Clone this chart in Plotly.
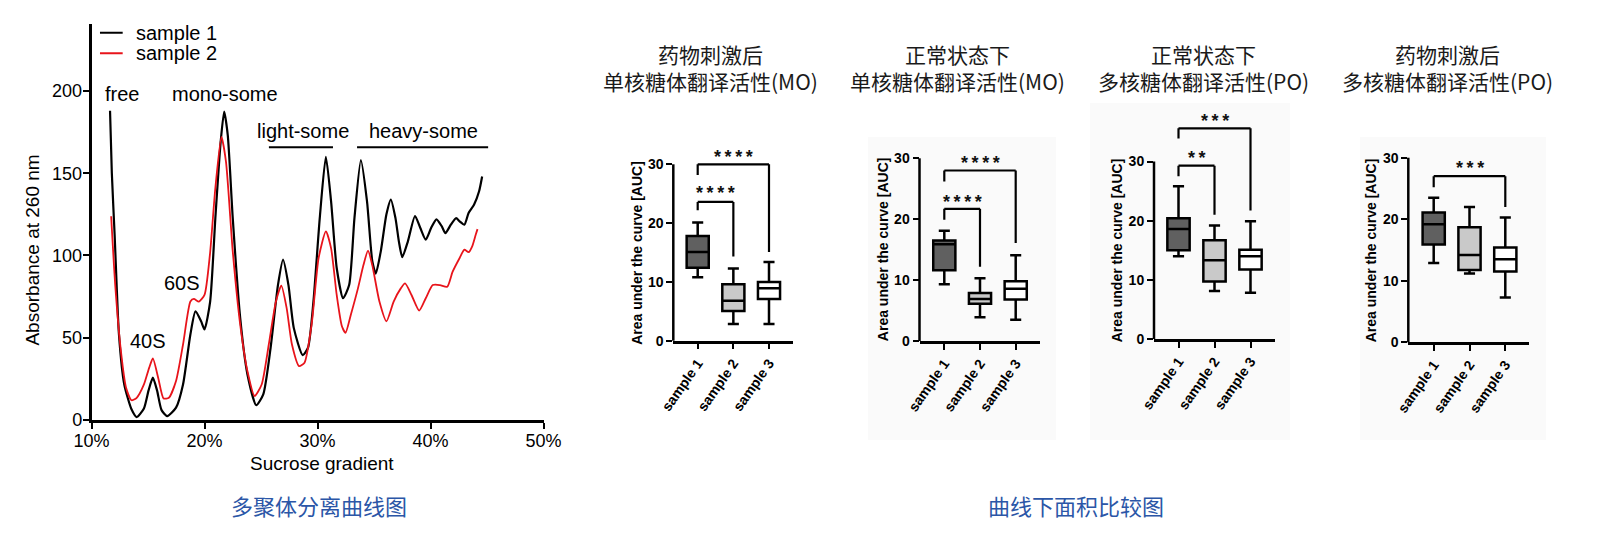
import plotly.graph_objects as go

W, H = 1599, 535
FONT = "Liberation Sans, Arial, sans-serif"
CJK = "Noto Sans CJK SC, sans-serif"

# ---------------- data: polysome profile ----------------
series_names = ["sample 1", "sample 2"]
sucrose_s1 = [11.64, 11.8, 12.05, 12.43, 12.9, 13.54, 14.0, 14.64, 15.05, 15.43, 15.8, 16.2, 16.7, 17.48,
              18.1, 18.75, 19.2, 19.7, 20.0, 20.5, 20.96, 21.43, 21.74, 22.06, 22.5, 23.16, 23.8, 24.58,
              25.2, 25.85, 26.5, 26.95, 27.43, 27.9, 28.69, 29.16, 29.64, 30.2, 30.74, 31.2, 31.7, 32.26,
              32.8, 33.27, 33.84, 34.38, 34.85, 35.16, 35.6, 36.1, 36.49, 36.9, 37.2, 37.5, 38.0, 38.63,
              39.1, 39.58, 40.05, 40.53, 41.0, 41.32, 41.8, 42.27, 42.58, 43.0, 43.37, 43.85, 44.3, 44.57]
abs_s1 = [188, 150, 112, 52, 21.6, 6.5, 1.8, 7, 18, 25.7, 18, 6, 2.4, 7.5,
          21.6, 52, 66, 60, 55, 72, 122.7, 169, 187.5, 173, 122.7, 62, 27.7, 9,
          15.6, 43.9, 82, 97.5, 82, 56, 39.4, 43.9, 72, 122.7, 160, 133, 92.4, 74,
          82, 122.7, 158, 133, 96.5, 89, 102.5, 125, 134, 122.7, 108.6, 99, 108.6, 124,
          116.7, 109.6, 116.7, 122, 117.7, 113.6, 118.7, 122.7, 120.7, 118.7, 125.8, 130.8, 139, 148]
sucrose_s2 = [11.74, 12.1, 12.6, 13.06, 13.54, 14.0, 14.64, 15.1, 15.43, 15.9, 16.38, 16.85, 17.48, 18.1,
              18.75, 19.06, 19.5, 20.0, 20.48, 20.96, 21.5, 21.9, 22.5, 23.16, 23.8, 24.43, 25.06, 25.69,
              26.32, 26.8, 27.27, 27.74, 28.37, 28.85, 29.48, 30.1, 30.74, 31.2, 31.7, 32.16, 32.48, 32.95,
              33.58, 34.06, 34.47, 34.85, 35.48, 36.1, 36.74, 37.37, 37.75, 38.32, 39.0, 39.58, 40.2, 40.84,
              41.48, 41.95, 42.58, 43.0, 43.37, 43.69, 44.0, 44.16]
abs_s2 = [123.8, 82, 42, 19.6, 12, 13.5, 21.6, 31.7, 37.4, 25.7, 13.1, 13.5, 23.7, 45.9,
          72, 73.6, 72, 76, 100.5, 141, 172, 157, 102.5, 58, 29.7, 14.6, 21.6, 45.9,
          72, 81.7, 68, 45.9, 32.8, 34.8, 58, 98.5, 114.7, 104.5, 76, 57, 53, 64,
          80, 94, 103, 94, 72, 60, 72, 80, 83, 76, 66.5, 74, 82, 82,
          81, 90, 98.5, 103.5, 102, 105.6, 112.6, 116]
series_colors = ["#000000", "#e8141b"]

peak_labels = ["free", "40S", "60S", "mono-some", "light-some", "heavy-some"]
peak_label_x = [12.67, 15.0, 18.0, 21.8, 28.7, 39.4]
peak_label_y = [198, 48.3, 83.3, 198, 175.7, 175.7]
range_bar_x0 = [25.7, 33.5]
range_bar_x1 = [31.37, 45.1]
range_bar_y = [165.8, 165.8]
legend_y = [235.4, 222.9]
x_ticks = [10, 20, 30, 40, 50]
x_ticktext = ["10%", "20%", "30%", "40%", "50%"]
y_ticks = [0, 50, 100, 150, 200]

# ---------------- data: AUC box plots ----------------
categories = ["sample 1", "sample 2", "sample 3"]
panel_titles = ["药物刺激后<br>单核糖体翻译活性(MO)", "正常状态下<br>单核糖体翻译活性(MO)",
                "正常状态下<br>多核糖体翻译活性(PO)", "药物刺激后<br>多核糖体翻译活性(PO)"]
auc_ticks = [0, 10, 20, 30]

mo_drug_lower = [10.8, 2.85, 2.85]
mo_drug_q1 = [12.4, 5.05, 7.1]
mo_drug_median = [15.1, 6.8, 8.9]
mo_drug_q3 = [17.8, 9.6, 10.0]
mo_drug_upper = [20.1, 12.3, 13.4]

mo_normal_lower = [9.3, 3.9, 3.5]
mo_normal_q1 = [11.6, 6.1, 6.8]
mo_normal_median = [15.9, 6.9, 8.6]
mo_normal_q3 = [16.5, 7.9, 9.8]
mo_normal_upper = [18.1, 10.3, 14.1]

po_normal_lower = [14.0, 8.1, 7.8]
po_normal_q1 = [15.0, 9.7, 11.75]
po_normal_median = [18.6, 13.3, 14.0]
po_normal_q3 = [20.4, 16.7, 15.1]
po_normal_upper = [25.8, 19.2, 19.9]

po_drug_lower = [12.9, 11.2, 7.3]
po_drug_q1 = [15.9, 11.75, 11.5]
po_drug_median = [19.2, 14.2, 13.5]
po_drug_q3 = [21.1, 18.7, 15.4]
po_drug_upper = [23.5, 22.0, 20.3]

# significance: (group a, group b, bracket top, left leg end, right leg end, label y, stars)
mo_drug_sig = [(0, 1, 23.6, 22.2, 14.3, 25.8, 4), (0, 2, 30.0, 28.2, 15.1, 32.0, 4)]
mo_normal_sig = [(0, 1, 21.7, 19.9, 12.2, 23.5, 4), (0, 2, 28.0, 26.2, 16.1, 29.9, 4)]
po_normal_sig = [(0, 1, 29.3, 27.5, 21.0, 31.3, 2), (0, 2, 35.6, 33.9, 21.7, 37.6, 3)]
po_drug_sig = [(0, 2, 27.0, 25.2, 22.0, 28.9, 3)]

box_fills = ["#606060", "#c9c9c9", "#ffffff"]

panels = [
    (mo_drug_lower, mo_drug_q1, mo_drug_median, mo_drug_q3, mo_drug_upper, mo_drug_sig),
    (mo_normal_lower, mo_normal_q1, mo_normal_median, mo_normal_q3, mo_normal_upper, mo_normal_sig),
    (po_normal_lower, po_normal_q1, po_normal_median, po_normal_q3, po_normal_upper, po_normal_sig),
    (po_drug_lower, po_drug_q1, po_drug_median, po_drug_q3, po_drug_upper, po_drug_sig),
]

# ---------------- layout geometry (pixels) ----------------
LEFT = dict(x0=91.5, x1=543.5, ybot=420.0, ytop=23.5, xr=(10, 50), yr=(0, 241))
PANEL_GEOM = [
    dict(ax=673.3, xend=793.0, c0=697.7, step=35.65, y0=340.7, y30=164.3, tx=710),
    dict(ax=919.5, xend=1040.0, c0=944.3, step=35.7, y0=341.0, y30=158.3, tx=957.5),
    dict(ax=1154.0, xend=1274.5, c0=1178.5, step=36.0, y0=339.0, y30=161.5, tx=1203.5),
    dict(ax=1408.3, xend=1529.3, c0=1433.7, step=35.8, y0=342.3, y30=157.7, tx=1447),
]
YMAX = 40
BG_RECTS = [(868, 137, 1056, 440), (1090, 103, 1290, 440), (1360, 137, 1546, 440)]

fig = go.Figure()
shapes = []
annotations = []


def ann(**kw):
    d = dict(showarrow=False, xanchor="center", yanchor="middle")
    d.update(kw)
    annotations.append(d)


# background panels
for (bx0, by0, bx1, by1) in BG_RECTS:
    shapes.append(dict(type="rect", xref="paper", yref="paper", x0=bx0 / W, x1=bx1 / W,
                       y0=1 - by1 / H, y1=1 - by0 / H, fillcolor="#fafafa", line=dict(width=0), layer="below"))

# left chart traces
for xs, ys, name, col, lw in [(sucrose_s1, abs_s1, series_names[0], series_colors[0], 2.2),
                              (sucrose_s2, abs_s2, series_names[1], series_colors[1], 1.8)]:
    fig.add_trace(go.Scatter(x=xs, y=ys, mode="lines", name=name, showlegend=False,
                             line=dict(color=col, width=lw, shape="spline", smoothing=0.6),
                             xaxis="x", yaxis="y", hoverinfo="skip"))

layout = dict(
    width=W, height=H, margin=dict(l=0, r=0, t=0, b=0, pad=0, autoexpand=False),
    paper_bgcolor="white", plot_bgcolor="rgba(0,0,0,0)", showlegend=False,
    font=dict(family=FONT, color="black"),
)
layout["xaxis"] = dict(domain=[LEFT["x0"] / W, LEFT["x1"] / W], range=list(LEFT["xr"]), anchor="y",
                       tickvals=x_ticks, ticktext=x_ticktext, showline=True, linewidth=2.5, linecolor="black",
                       ticks="outside", ticklen=6, tickwidth=2, tickcolor="black", showgrid=False,
                       ticklabelstandoff=-3,
                       zeroline=False, automargin=False, tickfont=dict(size=18, family=FONT))
layout["yaxis"] = dict(domain=[1 - LEFT["ybot"] / H, 1 - LEFT["ytop"] / H], range=list(LEFT["yr"]), anchor="x",
                       tickvals=y_ticks, showline=True, linewidth=2.5, linecolor="black",
                       ticks="outside", ticklen=6, tickwidth=2, tickcolor="black", showgrid=False,
                       ticklabelstandoff=-3,
                       zeroline=False, automargin=False, tickfont=dict(size=18, family=FONT))

# left chart labels
for t, x, y in zip(peak_labels, peak_label_x, peak_label_y):
    ann(text=t, x=x, y=y, xref="x", yref="y", font=dict(size=20, family=FONT, color="black"))
for x0, x1, y in zip(range_bar_x0, range_bar_x1, range_bar_y):
    shapes.append(dict(type="line", xref="x", yref="y", x0=x0, x1=x1, y0=y, y1=y,
                       line=dict(color="black", width=2)))
# legend keys
for name, col, y in zip(series_names, series_colors, legend_y):
    shapes.append(dict(type="line", xref="x", yref="y", x0=10.75, x1=12.76, y0=y, y1=y,
                       line=dict(color=col, width=2)))
    ann(text=name, x=13.76, y=y, xref="x", yref="y", xanchor="left",
        font=dict(size=20, family=FONT, color="black"))
ann(text="Absorbance at 260 nm", textangle=-90, x=0, xref="x domain", xshift=-59,
    y=103.3, yref="y", font=dict(size=19, family=FONT))
ann(text="Sucrose gradient", x=30.4, xref="x", y=0, yref="y domain", yshift=-43,
    font=dict(size=19, family=FONT))

# box panels
for k, (lo, q1, med, q3, up, sig) in enumerate(panels):
    g = PANEL_GEOM[k]
    n = k + 2
    ppu = (g["y0"] - g["y30"]) / 30.0
    ytop_px = g["y0"] - YMAX * ppu
    xa, ya = f"x{n}", f"y{n}"
    layout[f"xaxis{n}"] = dict(domain=[g["ax"] / W, g["xend"] / W], anchor=ya, type="category",
                               categoryorder="array", categoryarray=categories,
                               range=[(g["ax"] - g["c0"]) / g["step"], (g["xend"] - g["c0"]) / g["step"]],
                               showline=True, linewidth=2.5, linecolor="black", ticks="outside",
                               ticklen=6, tickwidth=2, tickcolor="black", tickangle=-55, showgrid=False,
                               automargin=False, tickfont=dict(size=14, family=FONT, weight="bold"))
    layout[f"yaxis{n}"] = dict(domain=[1 - g["y0"] / H, 1 - ytop_px / H], anchor=xa, range=[0, YMAX],
                               tickvals=auc_ticks, showline=False, ticks="outside", ticklen=6, tickwidth=2,
                               tickcolor="black", showgrid=False, zeroline=False, automargin=False,
                               tickfont=dict(size=14, family=FONT, weight="bold"))
    for c in range(3):
        fig.add_trace(go.Box(x=[categories[c]], lowerfence=[lo[c]], q1=[q1[c]], median=[med[c]],
                             q3=[q3[c]], upperfence=[up[c]], fillcolor=box_fills[c],
                             line=dict(color="black", width=2.5), width=0.62, whiskerwidth=0.5,
                             boxpoints=False, xaxis=xa, yaxis=ya, showlegend=False, hoverinfo="skip"))
    # y axis line 0..30
    shapes.append(dict(type="line", xref=f"{xa} domain", yref=f"{ya} domain", x0=0, x1=0,
                       y0=0, y1=auc_ticks[-1] / YMAX, line=dict(color="black", width=2.5)))
    # significance brackets
    for (a, b, top, lb, rb, ly, ns) in sig:
        for (sx0, sy0, sx1, sy1) in [(a, lb, a, top), (a, top, b, top), (b, top, b, rb)]:
            shapes.append(dict(type="line", xref=xa, yref=ya, x0=sx0, y0=sy0, x1=sx1, y1=sy1,
                               line=dict(color="black", width=2.2)))
        ann(text="\u2009".join(["*"] * ns), x=(a + b) / 2, y=ly, xref=xa, yref=ya, yshift=-4,
            font=dict(size=18, family=FONT, weight="bold", color="#111"))
    ann(text="Area under the curve [AUC]", textangle=-90, x=0, xref=f"{xa} domain",
        xshift=-37, y=15, yref=ya, font=dict(size=14, family=FONT, weight="bold"))
    ann(text=panel_titles[k], x=g["tx"] / W, y=1 - 68 / H, xref="paper", yref="paper",
        font=dict(size=21, family=CJK, color="#1a1a1a"))

# captions
ann(text="多聚体分离曲线图", x=319 / W, y=1 - 505 / H, xref="paper", yref="paper",
    font=dict(size=22, family=CJK, color="#2b56a7"))
ann(text="曲线下面积比较图", x=1076 / W, y=1 - 505 / H, xref="paper", yref="paper",
    font=dict(size=22, family=CJK, color="#2b56a7"))

layout["shapes"] = shapes
layout["annotations"] = annotations
fig.update_layout(**layout)
fig.write_html("out.html", config={"displayModeBar": False})
